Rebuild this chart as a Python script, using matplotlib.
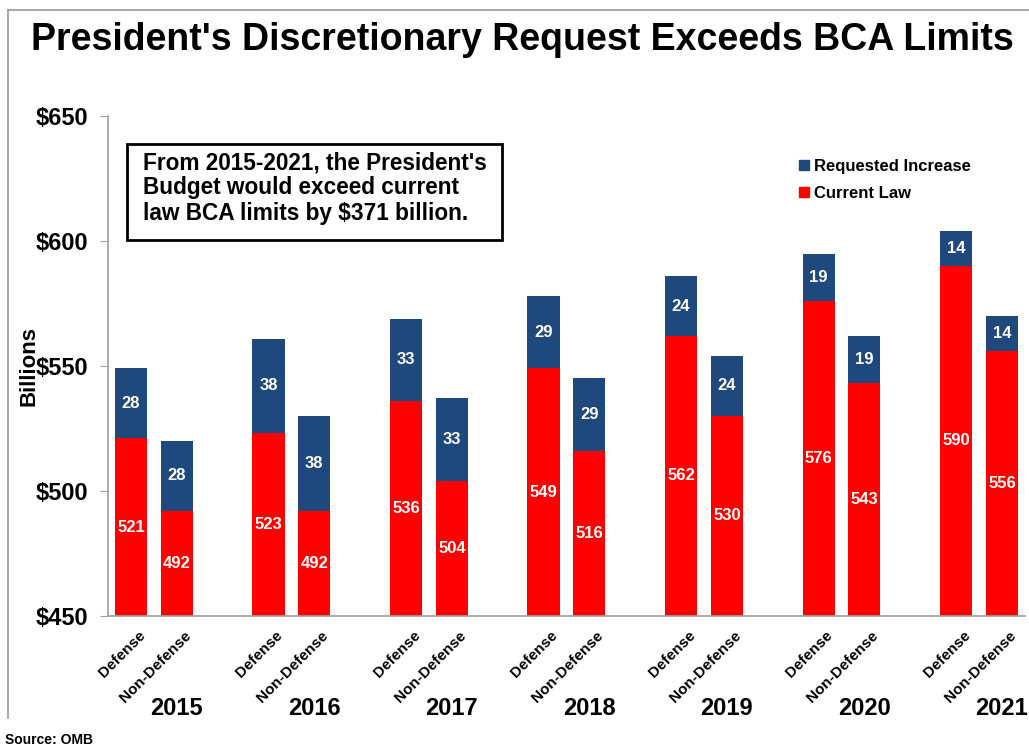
import numpy as np
import matplotlib.pyplot as plt
import matplotlib.transforms as mtransforms
from matplotlib.lines import Line2D
from matplotlib.patches import Rectangle

plt.rcParams['font.family'] = ['Liberation Sans', 'DejaVu Sans']
plt.rcParams['font.weight'] = 'bold'

years = ['2015', '2016', '2017', '2018', '2019', '2020', '2021']
def_current = [521, 523, 536, 549, 562, 576, 590]
def_increase = [28, 38, 33, 29, 24, 19, 14]
nondef_current = [492, 492, 504, 516, 530, 543, 556]
nondef_increase = [28, 38, 33, 29, 24, 19, 14]

red = '#FF0000'
blue = '#1F497D'
ymin, ymax = 450, 650

fig = plt.figure(figsize=(10.29, 7.5), dpi=100)
ax = fig.add_axes([0.105, 0.179, 0.891, 0.666])

idx = np.arange(len(years))
x_def = idx * 3
x_non = idx * 3 + 1
w = 0.7

for xs, cur, inc in [(x_def, def_current, def_increase),
                     (x_non, nondef_current, nondef_increase)]:
    ax.bar(xs, cur, width=w, color=red, zorder=2)
    ax.bar(xs, inc, width=w, bottom=cur, color=blue, zorder=2)
    for x, c, i in zip(xs, cur, inc):
        ax.text(x, (ymin + c) / 2, str(c), ha='center', va='center',
                color='white', fontsize=12, fontweight='bold')
        ax.text(x, c + i / 2, str(i), ha='center', va='center',
                color='white', fontsize=12, fontweight='bold')

ax.set_xlim(-0.5, 19.5)
ax.set_ylim(ymin, ymax)
ax.set_yticks([450, 500, 550, 600, 650])
ax.set_yticklabels(['$%d' % v for v in [450, 500, 550, 600, 650]],
                   fontsize=17, fontweight='bold')
ax.tick_params(axis='y', length=6, color='#A0A0A0', pad=8)

xt = np.ravel(np.column_stack([x_def, x_non]))
ax.set_xticks(xt)
ax.set_xticklabels(['Defense', 'Non-Defense'] * len(years), rotation=45,
                   ha='right', rotation_mode='anchor', fontsize=11,
                   fontweight='bold')
ax.tick_params(axis='x', length=0, pad=9)
shift = mtransforms.ScaledTranslation(7 / 100, 0, fig.dpi_scale_trans)
for lbl in ax.get_xticklabels():
    lbl.set_transform(lbl.get_transform() + shift)

for s in ['top', 'right']:
    ax.spines[s].set_visible(False)
for s in ['left', 'bottom']:
    ax.spines[s].set_color('#A0A0A0')
    ax.spines[s].set_linewidth(1.2)

ax.set_ylabel('Billions', fontsize=16, fontweight='bold')
ax.yaxis.set_label_coords(-0.075, 0.5)

for x, y in zip(x_non, years):
    ax.text(x, -0.185, y, transform=ax.get_xaxis_transform(),
            ha='center', va='center', fontsize=17, fontweight='bold')

# note box
ax.add_patch(Rectangle((0.0207, 0.752), 0.409, 0.192, transform=ax.transAxes,
                       facecolor='white', edgecolor='black', linewidth=2,
                       zorder=3))
ax.text(0.038, 0.93,
        "From 2015-2021, the President's\nBudget would exceed current\nlaw BCA limits by \\$371 billion.",
        transform=ax.transAxes, ha='left', va='top', fontsize=16.3,
        fontweight='bold', linespacing=1.12, zorder=4)

handles = [Line2D([], [], marker='s', color=blue, linestyle='none', markersize=7),
           Line2D([], [], marker='s', color=red, linestyle='none', markersize=7)]
ax.legend(handles, ['Requested Increase', 'Current Law'], loc='upper left',
          bbox_to_anchor=(0.734, 0.945), frameon=False, fontsize=12,
          handletextpad=0.05, labelspacing=0.75, handlelength=1.0)

fig.text(0.508, 0.947, "President's Discretionary Request Exceeds BCA Limits",
         ha='center', va='center', fontsize=27, fontweight='bold')
fig.text(0.005, 0.013, 'Source: OMB', ha='left', va='center', fontsize=10,
         fontweight='bold')

# frame around the slide area
fig.add_artist(Line2D([0.008, 1.0], [0.987, 0.987], color='#999999', lw=1.2))
fig.add_artist(Line2D([0.008, 0.008], [0.987, 0.043], color='#999999', lw=1.2))

fig.savefig('out.png', dpi=100)
